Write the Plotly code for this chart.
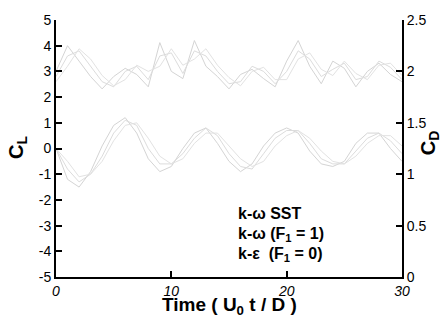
import plotly.graph_objects as go

# Time axis samples (U0 t / D)
time = [0, 1, 2, 3, 4, 5, 6, 7, 8, 9, 10, 11, 12, 13, 14, 15,
        16, 17, 18, 19, 20, 21, 22, 23, 24, 25, 26, 27, 28, 29, 30]

# Lift coefficient C_L (left axis)
cl_sst = [0.0, -1.2, -1.5, -0.9, 0.1, 0.9, 1.2, 0.6, -0.4, -0.9, -0.7, 0.0, 0.6, 0.8, 0.2, -0.5,
          -0.9, -0.6, 0.1, 0.6, 0.8, 0.6, -0.1, -0.6, -0.7, -0.5, 0.2, 0.6, 0.6, 0.0, -0.5]
cl_kw = [0.0, -0.8, -1.3, -1.0, -0.3, 0.6, 1.1, 0.9, 0.0, -0.6, -0.6, -0.2, 0.4, 0.8, 0.5, -0.2,
         -0.7, -0.8, -0.2, 0.4, 0.7, 0.7, 0.2, -0.4, -0.6, -0.6, -0.1, 0.4, 0.6, 0.3, -0.2]
cl_ke = [0.0, -0.5, -1.1, -1.0, -0.5, 0.3, 0.9, 1.0, 0.4, -0.3, -0.6, -0.4, 0.2, 0.6, 0.6, 0.1,
         -0.4, -0.7, -0.5, 0.1, 0.5, 0.7, 0.4, -0.1, -0.5, -0.6, -0.3, 0.2, 0.5, 0.5, 0.1]

# Drag coefficient C_D (right axis)
cd_sst = [2.00, 2.25, 2.10, 1.95, 1.83, 1.95, 2.03, 1.97, 1.85, 2.28, 2.00, 1.93, 2.30, 2.05, 1.95,
          1.83, 1.97, 2.02, 1.93, 1.85, 2.10, 2.30, 2.05, 1.88, 2.10, 2.03, 1.85, 2.00, 2.08, 1.97, 1.90]
cd_kw = [1.95, 2.15, 2.20, 2.05, 1.90, 1.85, 2.00, 2.05, 1.92, 2.15, 2.18, 1.98, 2.20, 2.15, 2.00,
         1.88, 1.90, 2.05, 2.00, 1.88, 2.00, 2.20, 2.12, 1.95, 2.02, 2.08, 1.92, 1.95, 2.10, 2.04, 1.92]
cd_ke = [1.90, 2.05, 2.22, 2.12, 1.96, 1.86, 1.92, 2.06, 2.00, 2.05, 2.22, 2.06, 2.12, 2.22, 2.06,
         1.94, 1.86, 2.00, 2.04, 1.92, 1.92, 2.12, 2.18, 2.02, 1.96, 2.10, 1.98, 1.92, 2.06, 2.08, 1.96]

x_ticks = [0, 10, 20, 30]
cl_ticks = [-5, -4, -3, -2, -1, 0, 1, 2, 3, 4, 5]
cd_ticks = [0, 0.5, 1, 1.5, 2, 2.5]
legend_labels = ["k-ω SST", "k-ω (F<sub>1</sub> = 1)", "k-ε  (F<sub>1</sub> = 0)"]

# plot-area geometry in pixels (used only to place text)
L, R, T, B = 56, 402, 14, 277
W, H = 443, 321


def px(x):
    return (x - L) / (R - L)


def py(y):
    return (B - y) / (B - T)


fig = go.Figure()
colors = ["#d4d4d4", "#dcdcdc", "#e2e2e2"]
for c, cl in zip(colors, [cl_sst, cl_kw, cl_ke]):
    fig.add_trace(go.Scatter(x=time, y=cl, mode="lines", line=dict(color=c, width=1),
                             showlegend=False, yaxis="y"))
for c, cd in zip(colors, [cd_sst, cd_kw, cd_ke]):
    fig.add_trace(go.Scatter(x=time, y=cd, mode="lines", line=dict(color=c, width=1),
                             showlegend=False, yaxis="y2"))

fig.update_layout(
    width=W, height=H,
    margin=dict(l=L, r=W - R, t=T, b=H - B),
    plot_bgcolor="white",
    font=dict(family="Arial"),
    xaxis=dict(range=[0, 30], tickvals=x_ticks, ticktext=[f"<i>{v}</i>" for v in x_ticks],
               tickfont=dict(size=14, color="black"), showgrid=False, zeroline=False,
               showline=True, linecolor="black", linewidth=2,
               ticks="inside", ticklen=6, tickwidth=2, tickcolor="black"),
    yaxis=dict(range=[-5, 5], tickvals=cl_ticks, ticktext=[str(v) for v in cl_ticks],
               tickfont=dict(size=14, color="black"), showgrid=False, zeroline=False,
               showline=True, linecolor="black", linewidth=2,
               ticks="inside", ticklen=6, tickwidth=2, tickcolor="black"),
    yaxis2=dict(range=[0, 2.5], tickvals=cd_ticks, ticktext=[f"{v:g}" for v in cd_ticks],
                overlaying="y", side="right",
                tickfont=dict(size=14, color="black"), showgrid=False, zeroline=False,
                showline=True, linecolor="black", linewidth=2,
                ticks="inside", ticklen=6, tickwidth=2, tickcolor="black"),
)

# axis titles as annotations
fig.add_annotation(x=px(229), y=py(307), xref="paper", yref="paper", showarrow=False,
                   text="<b>Time ( U<sub>0</sub> t / D )</b>", font=dict(size=19, color="black"),
                   xanchor="center", yanchor="middle")
fig.add_annotation(x=px(17), y=py(145), xref="paper", yref="paper", showarrow=False,
                   text="<b>C<sub>L</sub></b>", font=dict(size=20, color="black"), textangle=-90,
                   xanchor="center", yanchor="middle")
fig.add_annotation(x=px(429), y=py(140), xref="paper", yref="paper", showarrow=False,
                   text="<b>C<sub>D</sub></b>", font=dict(size=20, color="black"), textangle=-90,
                   xanchor="center", yanchor="middle")

for i, lab in enumerate(legend_labels):
    fig.add_annotation(x=px(236), y=py(212 + 21 * i), xref="paper", yref="paper", showarrow=False,
                       text=f"<b>{lab}</b>", font=dict(size=16, color="black"),
                       xanchor="left", yanchor="middle")

fig.write_html("out.html")
